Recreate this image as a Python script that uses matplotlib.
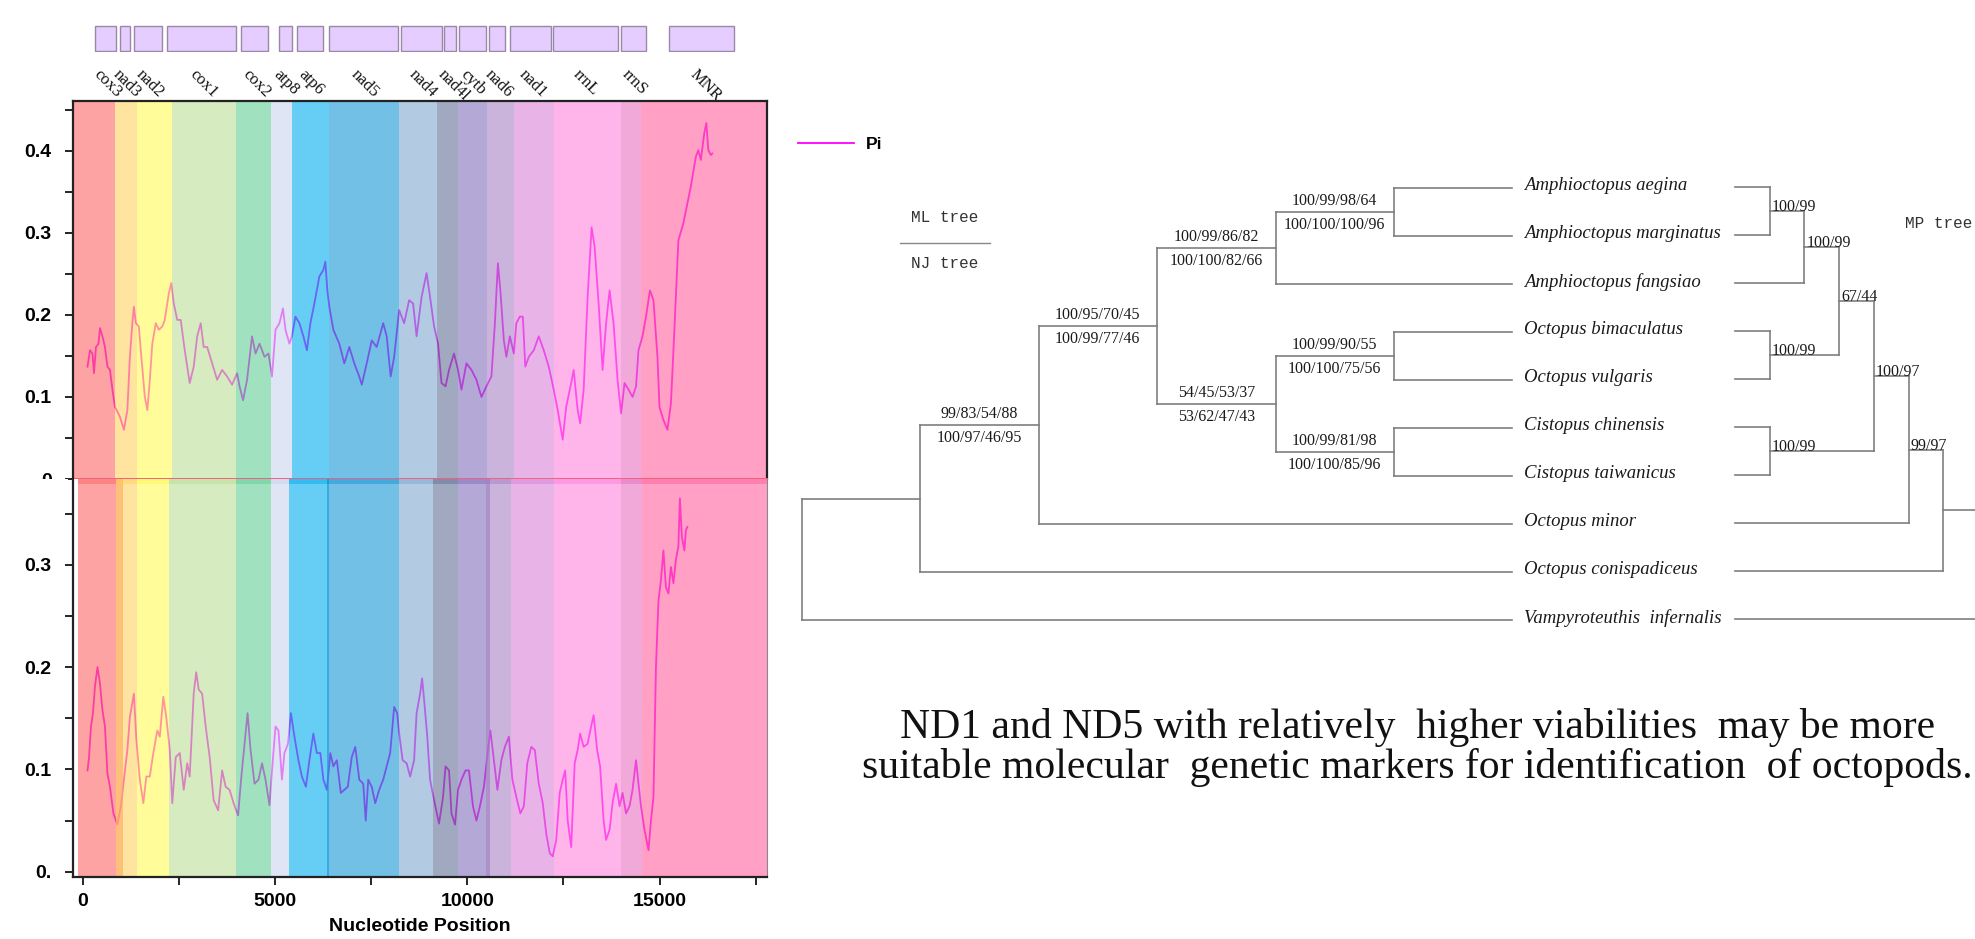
import numpy as np
import matplotlib
matplotlib.use('Agg')
import matplotlib.pyplot as plt
import matplotlib.colors as mcolors
from matplotlib.patches import Rectangle

# ---------------- data ----------------
# sliding-window nucleotide diversity, (position, Pi)
top_trace = [(130,.137),(194,.157),(259,.153),(298,.129),(350,.161),(415,.165),(454,.184),(518,.174),(583,.161),(648,.137),
             (713,.133),(778,.109),(842,.088),(972,.076),(1076,.060),(1166,.084),(1231,.149),(1296,.190),(1335,.210),(1387,.190),
             (1464,.186),(1529,.149),(1620,.100),(1685,.084),(1750,.121),(1814,.165),(1905,.190),(1983,.182),(2074,.186),(2138,.194),
             (2242,.226),(2307,.239),(2372,.214),(2462,.194),(2553,.194),(2657,.157),(2786,.117),(2890,.137),(2981,.174),(3072,.190),
             (3149,.161),(3240,.161),(3370,.141),(3499,.121),(3629,.133),(3758,.125),(3888,.115),(4018,.129),(4082,.113),(4173,.096),
             (4277,.121),(4406,.174),(4497,.153),(4601,.165),(4730,.149),(4834,.153),(4925,.125),(5016,.182),(5119,.190),(5210,.208),
             (5275,.182),(5378,.165),(5443,.174),(5534,.198),(5638,.190),(5741,.174),(5832,.157),(5923,.190),(6026,.214),(6156,.247),
             (6260,.255),(6312,.265),(6363,.230),(6415,.210),(6519,.182),(6674,.165),(6804,.141),(6934,.161),(7063,.141),(7193,.125),
             (7258,.115),(7387,.141),(7517,.169),(7646,.161),(7815,.190),(7906,.174),(8009,.125),(8100,.149),(8230,.206),(8359,.190),
             (8489,.218),(8592,.214),(8683,.174),(8813,.222),(8942,.251),(9033,.222),(9137,.186),(9240,.165),(9331,.117),(9435,.113),
             (9526,.133),(9655,.153),(9759,.133),(9850,.109),(9979,.141),(10109,.133),(10238,.121),(10368,.100),(10498,.113),(10627,.125),
             (10718,.190),(10796,.263),(10860,.230),(10951,.169),(11016,.149),(11107,.174),(11210,.153),(11275,.190),(11366,.198),(11444,.198),
             (11508,.137),(11599,.149),(11729,.157),(11858,.174),(11988,.157),(12118,.137),(12247,.109),(12351,.084),(12480,.048),(12571,.088),
             (12701,.117),(12766,.133),(12869,.084),(12934,.068),(13025,.109),(13128,.222),(13232,.307),(13310,.283),(13414,.214),(13517,.133),
             (13608,.190),(13699,.230),(13802,.190),(13906,.121),(13997,.080),(14088,.117),(14191,.109),(14295,.100),(14386,.113),(14450,.157),
             (14554,.174),(14645,.198),(14748,.230),(14839,.218),(14943,.149),(14995,.088),(15098,.072),(15202,.060),(15293,.092),(15383,.182),
             (15487,.291),(15617,.312),(15720,.336),(15811,.357),(15941,.393),(16005,.401),(16070,.389),(16161,.422),(16213,.434),(16265,.401),
             (16330,.395),(16368,.397)]

bottom_trace = [(130,.099),(168,.111),(220,.142),(272,.155),(324,.181),(389,.200),(454,.184),(518,.158),(583,.142),(648,.096),
                (713,.083),(804,.057),(907,.046),(998,.064),(1076,.090),(1166,.119),(1231,.151),(1335,.174),(1400,.129),(1490,.090),
                (1581,.067),(1659,.093),(1750,.093),(1840,.116),(1944,.138),(2009,.132),(2100,.171),(2177,.151),(2268,.119),(2333,.067),
                (2424,.112),(2527,.116),(2631,.080),(2722,.106),(2786,.093),(2890,.174),(2955,.195),(3020,.178),(3110,.174),(3201,.142),
                (3305,.112),(3408,.070),(3525,.060),(3629,.099),(3720,.083),(3823,.080),(3927,.067),(4044,.055),(4121,.090),(4212,.125),
                (4290,.155),(4368,.119),(4471,.086),(4575,.090),(4666,.106),(4756,.090),(4860,.065),(4925,.099),(5016,.142),(5093,.138),
                (5184,.090),(5249,.116),(5340,.125),(5417,.155),(5508,.132),(5612,.109),(5702,.093),(5806,.083),(5897,.109),(6000,.135),
                (6091,.116),(6182,.116),(6260,.090),(6350,.080),(6441,.116),(6519,.103),(6610,.109),(6713,.077),(6804,.080),(6895,.083),
                (6998,.112),(7089,.122),(7193,.090),(7296,.086),(7361,.050),(7426,.090),(7517,.083),(7608,.067),(7711,.080),(7815,.090),
                (7906,.103),(7996,.116),(8100,.161),(8178,.155),(8230,.135),(8320,.109),(8424,.106),(8515,.093),(8618,.109),(8683,.155),
                (8774,.174),(8826,.189),(8878,.168),(8955,.135),(9033,.090),(9137,.070),(9266,.047),(9370,.073),(9435,.103),(9526,.099),
                (9590,.057),(9681,.046),(9759,.080),(9850,.090),(9953,.099),(10044,.099),(10148,.064),(10238,.050),(10329,.064),(10433,.083),
                (10536,.119),(10601,.138),(10692,.109),(10783,.080),(10886,.109),(10977,.122),(11081,.132),(11172,.090),(11275,.073),(11379,.057),
                (11470,.064),(11560,.106),(11664,.122),(11755,.119),(11858,.086),(11962,.067),(12053,.037),(12144,.018),(12221,.015),(12312,.031),
                (12403,.077),(12480,.090),(12545,.099),(12610,.050),(12701,.024),(12792,.106),(12869,.119),(12934,.135),(13025,.122),(13128,.125),
                (13219,.142),(13284,.153),(13375,.119),(13452,.103),(13543,.050),(13608,.031),(13699,.041),(13776,.067),(13867,.086),(13958,.064),
                (14036,.077),(14126,.057),(14217,.064),(14295,.080),(14386,.109),(14450,.086),(14515,.064),(14606,.041),(14710,.021),(14774,.050),
                (14839,.073),(14904,.200),(14969,.265),(15034,.285),(15098,.314),(15163,.278),(15228,.272),(15293,.298),(15358,.282),(15422,.305),
                (15487,.318),(15526,.365),(15578,.327),(15643,.314),(15682,.334),(15720,.337)]

gene_names = ['cox3', 'nad3', 'nad2', 'cox1', 'cox2', 'atp8', 'atp6', 'nad5', 'nad4', 'nad4l',
              'cytb', 'nad6', 'nad1', 'rrnL', 'rrnS', 'MNR']
box_start = [324, 985, 1335, 2190, 4121, 5106, 5573, 6402, 8268, 9396, 9798, 10562, 11107, 12221, 13997, 15241]
box_end = [868, 1231, 2061, 3992, 4821, 5443, 6260, 8204, 9331, 9720, 10498, 10977, 12182, 13906, 14658, 16939]

# gene regions shaded behind each panel
band_top_start = [-300, 855, 1413, 2320, 3979, 4899, 5443, 6415, 8230, 9202, 9759, 10524, 11210, 12247, 13997, 14515]
band_top_end = [855, 1413, 2320, 3979, 4899, 5443, 6415, 8230, 9202, 9759, 10524, 11210, 12247, 13997, 14515, 17800]
band_bot_start = [-130, 868, 1413, 2242, 3979, 4899, 5378, 6350, 8230, 9111, 9759, 10497, 11146, 12247, 13997, 14541]
band_bot_end = [1063, 1413, 2242, 3979, 4899, 5378, 6415, 8230, 9111, 9759, 10601, 11146, 12247, 13997, 14541, 17800]
band_colors = ['#FDA3A3', '#FFE4A0', '#FFFC99', '#D6EBC0', '#A0E2C0', '#E0E6F4', '#64CDF5', '#72C0E6',
               '#B2CAE2', '#A0AAC0', '#B4A8D6', '#CAB4DC', '#E8B4E8', '#FFB4EA', '#F0AAD8', '#FFA0C4']

taxa = ['Amphioctopus aegina', 'Amphioctopus marginatus', 'Amphioctopus fangsiao', 'Octopus bimaculatus',
        'Octopus vulgaris', 'Cistopus chinensis', 'Cistopus taiwanicus', 'Octopus minor',
        'Octopus conispadiceus', 'Vampyroteuthis  infernalis']
ml_topology = ((((((0, 1), 2), ((3, 4), (5, 6))), 7), 8), 9)
mp_topology = (((((((0, 1), 2), (3, 4)), (5, 6)), 7), 8), 9)
ml_support = {
    (0, 1): ('100/99/98/64', '100/100/100/96'),
    (0, 1, 2): ('100/99/86/82', '100/100/82/66'),
    (3, 4): ('100/99/90/55', '100/100/75/56'),
    (5, 6): ('100/99/81/98', '100/100/85/96'),
    (3, 4, 5, 6): ('54/45/53/37', '53/62/47/43'),
    (0, 1, 2, 3, 4, 5, 6): ('100/95/70/45', '100/99/77/46'),
    (0, 1, 2, 3, 4, 5, 6, 7): ('99/83/54/88', '100/97/46/95'),
}
mp_support = {
    (0, 1): '100/99', (0, 1, 2): '100/99', (3, 4): '100/99', (0, 1, 2, 3, 4): '67/44',
    (5, 6): '100/99', (0, 1, 2, 3, 4, 5, 6): '100/97', (0, 1, 2, 3, 4, 5, 6, 7): '99/97',
}

caption = ['ND1 and ND5 with relatively  higher viabilities  may be more',
           'suitable molecular  genetic markers for identification  of octopods.']

# ---------------- layout ----------------
W, H = 1975, 939
plt.rcParams['font.family'] = ['Liberation Sans', 'DejaVu Sans']
fig = plt.figure(figsize=(W / 100, H / 100), dpi=100)


def box(l, t, r, b):
    return [l / W, 1 - b / H, (r - l) / W, (b - t) / H]


def overlay(c, a=0.6):
    rgb = np.array(mcolors.to_rgb(c))
    return tuple(np.clip((rgb - (1 - a)) / a, 0, 1))


XLIM = (-260, 17790)
tick_font = dict(family='Liberation Sans', weight='bold', size=14)

# canvas for the tree, legend and caption (pixel coordinates)
ax_t = fig.add_axes([0, 0, 1, 1])
ax_t.set_xlim(0, W)
ax_t.set_ylim(H, 0)
ax_t.axis('off')

# gene map boxes
ax_g = fig.add_axes(box(72.5, 25, 767, 52))
ax_g.set_xlim(*XLIM)
ax_g.set_ylim(0, 1)
ax_g.axis('off')
for name, s, e in zip(gene_names, box_start, box_end):
    ax_g.add_patch(Rectangle((s, 0.02), e - s, 0.96, facecolor='#E6CDFF', edgecolor='#9A88A8', lw=1.0))
    ax_g.text((s + e) / 2 - 100, -0.55, name, rotation=-45, rotation_mode='anchor', ha='left', va='top',
              family='Liberation Serif', fontsize=12, color='#111111', clip_on=False)

# upper panel
ax1 = fig.add_axes(box(72.5, 100.7, 767, 479))
tx, ty = np.array(top_trace).T
pi_line, = ax1.plot(tx, ty, color='#FF00FF', lw=1.3, zorder=1, label='Pi')
for s, e, c in zip(band_top_start, band_top_end, band_colors):
    ax1.axvspan(s, e, color=overlay(c), alpha=0.6, lw=0, zorder=2)
ax1.set_xlim(*XLIM)
ax1.set_ylim(0, 0.4613)
ax1.set_yticks([0, 0.1, 0.2, 0.3, 0.4])
ax1.set_yticklabels(['0', '0.1', '0.2', '0.3', '0.4'], fontdict=tick_font)
ax1.set_yticks(np.arange(0.05, 0.46, 0.1), minor=True)
ax1.tick_params(axis='x', bottom=False, labelbottom=False)
ax1.tick_params(axis='y', which='both', direction='out', length=6, width=1.2, pad=9)
for side in ['top', 'left', 'right']:
    ax1.spines[side].set_linewidth(1.6)
    ax1.spines[side].set_color('#222222')
ax1.spines['bottom'].set_color('#F06080')
ax1.spines['bottom'].set_linewidth(1.4)

# lower panel
ax2 = fig.add_axes(box(72.5, 479, 767, 876.7))
bx, by = np.array(bottom_trace).T
ax2.plot(bx, by, color='#FF00FF', lw=1.3, zorder=1)
for s, e, c in zip(band_bot_start, band_bot_end, band_colors):
    ax2.axvspan(s, e, color=overlay(c), alpha=0.6, lw=0, zorder=2)
    ax2.axvspan(s, e, ymin=0.988, ymax=1, color=overlay(c), alpha=0.5, lw=0, zorder=2)
ax2.set_xlim(*XLIM)
ax2.set_ylim(-0.0049, 0.3839)
ax2.set_yticks([0, 0.1, 0.2, 0.3])
ax2.set_yticklabels(['0.', '0.1', '0.2', '0.3'], fontdict=tick_font)
ax2.set_yticks([0.05, 0.15, 0.25, 0.35], minor=True)
ax2.set_xticks([0, 5000, 10000, 15000])
ax2.set_xticklabels(['0', '5000', '10000', '15000'], fontdict=tick_font)
ax2.set_xticks([2500, 7500, 12500, 17500], minor=True)
ax2.tick_params(which='both', direction='out', length=6, width=1.2)
ax2.tick_params(axis='y', pad=9)
ax2.tick_params(axis='x', pad=6)
ax2.spines['top'].set_visible(False)
ax2.spines['right'].set_color('#888888')
for side in ['left', 'bottom']:
    ax2.spines[side].set_linewidth(1.6)
    ax2.spines[side].set_color('#222222')
ax2.set_xlabel('Nucleotide Position', fontdict=tick_font)
ax2.xaxis.set_label_coords(0.5, -0.103)

# lower half of the upper panel's "0" label is hidden
fig.add_artist(Rectangle((0, 1 - 493 / H), 68 / W, 14 / H, transform=fig.transFigure,
                         facecolor='white', edgecolor='none', zorder=10))

fig.legend(handles=[pi_line], loc='center left', bbox_to_anchor=(798 / W, 1 - 144 / H), frameon=False,
           borderpad=0, borderaxespad=0, handlelength=3.2, handletextpad=0.7,
           prop=dict(family='Liberation Sans', weight='bold', size=12.5))

# ---------------- trees ----------------
LINE = dict(color='#7F7F7F', lw=1.2, solid_capstyle='projecting')
NUM = dict(family='Liberation Serif', fontsize=11.5, color='#1A1A1A')
ROW = 48.0
ML_Y0, MP_Y0 = 188.0, 187.0
ML_X0, ML_STEP, ML_TIP = 801.5, 118.5, 1512
MP_TIP, MP_STEP = 1735, 34.7


def tips_of(node):
    return (node,) if isinstance(node, int) else tips_of(node[0]) + tips_of(node[1])


def draw_ml(node, depth):
    if isinstance(node, int):
        return ML_TIP, ML_Y0 + node * ROW
    x = ML_X0 + depth * ML_STEP
    kids = [draw_ml(c, depth + 1) for c in node]
    ys = [k[1] for k in kids]
    ax_t.plot([x, x], [min(ys), max(ys)], **LINE)
    for c, (cx, cy) in zip(node, kids):
        ax_t.plot([x, cx], [cy, cy], **LINE)
        key = tuple(sorted(tips_of(c)))
        if key in ml_support:
            up, lo = ml_support[key]
            ax_t.text((x + cx) / 2, cy - 3, up, ha='center', va='bottom', **NUM)
            ax_t.text((x + cx) / 2, cy + 5, lo, ha='center', va='top', **NUM)
    return x, (min(ys) + max(ys)) / 2


def draw_mp(node):
    if isinstance(node, int):
        return MP_TIP, MP_Y0 + node * ROW, 0
    kids = [draw_mp(c) for c in node]
    h = 1 + max(k[2] for k in kids)
    x = MP_TIP + h * MP_STEP
    ys = [k[1] for k in kids]
    ax_t.plot([x, x], [min(ys), max(ys)], **LINE)
    for c, (cx, cy, _) in zip(node, kids):
        ax_t.plot([cx, x], [cy, cy], **LINE)
        key = tuple(sorted(tips_of(c)))
        if key in mp_support:
            ax_t.text(cx + 2, cy, mp_support[key], ha='left', va='baseline', **NUM)
    return x, (min(ys) + max(ys)) / 2, h


draw_ml(ml_topology, 0)
draw_mp(mp_topology)
for i, name in enumerate(taxa):
    ax_t.text(1524, ML_Y0 + i * ROW - 2, name, ha='left', va='center', family='Liberation Serif',
              style='italic', fontsize=13.5, color='#1A1A1A')

MONO = dict(family='Liberation Mono', fontsize=11.5, color='#333333')
ax_t.text(911, 218, 'ML tree', ha='left', va='center', **MONO)
ax_t.text(911, 263, 'NJ tree', ha='left', va='center', **MONO)
ax_t.plot([900, 990], [243, 243], color='#888888', lw=1.0)
ax_t.text(1905, 223, 'MP tree', ha='left', va='center', **MONO)

# ---------------- caption ----------------
CAP = dict(family='Liberation Serif', fontsize=30, color='#111111', ha='left', va='baseline')
ax_t.text(900, 738, caption[0], **CAP)
ax_t.text(862, 778, caption[1], **CAP)

fig.savefig('out.png', dpi=100)
